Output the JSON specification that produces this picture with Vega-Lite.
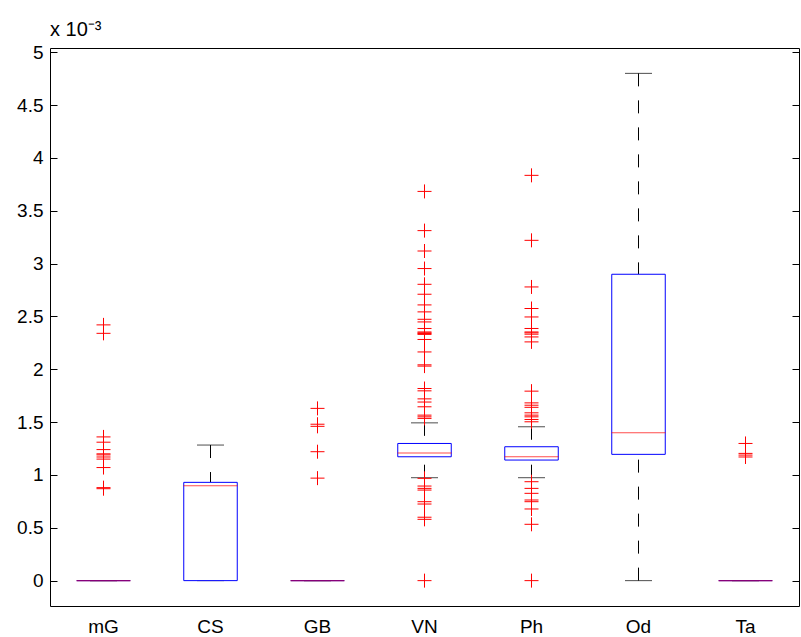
{
  "$schema": "https://vega.github.io/schema/vega-lite/v6.json",
  "autosize": {"type": "none"},
  "padding": {"left": 50, "top": 48, "right": 2, "bottom": 31},
  "width": 749,
  "height": 558,
  "background": "white",
  "title": {"text": "x 10⁻³", "anchor": "start", "frame": "group", "fontSize": 20, "fontWeight": "normal", "baseline": "alphabetic", "offset": 13, "dy": 26, "color": "black"},
  "config": {
    "font": "Liberation Sans",
    "title": {"fontSize": 20, "fontWeight": "normal", "font": "Liberation Sans"},
    "view": {"stroke": "black", "strokeWidth": 1},
    "axis": {"labelColor": "black", "labelFontSize": 19, "tickColor": "black", "domain": false, "grid": false, "title": null}
  },
  "datasets": {
    "boxes": [
      {"cat": "mG", "q1": 0, "q3": 0, "median": 0, "lo": 0, "hi": 0},
      {"cat": "CS", "q1": 0, "q3": 0.93, "median": 0.898, "lo": 0, "hi": 1.283},
      {"cat": "GB", "q1": 0, "q3": 0, "median": 0, "lo": 0, "hi": 0},
      {"cat": "VN", "q1": 1.172, "q3": 1.298, "median": 1.207, "lo": 0.974, "hi": 1.493},
      {"cat": "Ph", "q1": 1.141, "q3": 1.267, "median": 1.172, "lo": 0.974, "hi": 1.456},
      {"cat": "Od", "q1": 1.195, "q3": 2.899, "median": 1.399, "lo": 0, "hi": 4.8},
      {"cat": "Ta", "q1": 0, "q3": 0, "median": 0, "lo": 0, "hi": 0}
    ],
    "outliers": [
      {"cat": "mG", "v": 2.42}, {"cat": "mG", "v": 2.34}, {"cat": "mG", "v": 1.36}, {"cat": "mG", "v": 1.31},
      {"cat": "mG", "v": 1.24}, {"cat": "mG", "v": 1.2}, {"cat": "mG", "v": 1.19}, {"cat": "mG", "v": 1.17},
      {"cat": "mG", "v": 1.15}, {"cat": "mG", "v": 1.07}, {"cat": "mG", "v": 0.88}, {"cat": "mG", "v": 0.87},
      {"cat": "GB", "v": 1.63}, {"cat": "GB", "v": 1.48}, {"cat": "GB", "v": 1.46}, {"cat": "GB", "v": 1.22}, {"cat": "GB", "v": 0.97},
      {"cat": "VN", "v": 3.683}, {"cat": "VN", "v": 3.312}, {"cat": "VN", "v": 3.119}, {"cat": "VN", "v": 2.953},
      {"cat": "VN", "v": 2.804}, {"cat": "VN", "v": 2.71}, {"cat": "VN", "v": 2.609}, {"cat": "VN", "v": 2.543},
      {"cat": "VN", "v": 2.473}, {"cat": "VN", "v": 2.448}, {"cat": "VN", "v": 2.386}, {"cat": "VN", "v": 2.353},
      {"cat": "VN", "v": 2.345}, {"cat": "VN", "v": 2.338}, {"cat": "VN", "v": 2.33}, {"cat": "VN", "v": 2.282},
      {"cat": "VN", "v": 2.164}, {"cat": "VN", "v": 2.042}, {"cat": "VN", "v": 2.03}, {"cat": "VN", "v": 1.818},
      {"cat": "VN", "v": 1.796}, {"cat": "VN", "v": 1.72}, {"cat": "VN", "v": 1.69}, {"cat": "VN", "v": 1.645},
      {"cat": "VN", "v": 1.566}, {"cat": "VN", "v": 1.55}, {"cat": "VN", "v": 1.535},
      {"cat": "VN", "v": 0.968}, {"cat": "VN", "v": 0.895}, {"cat": "VN", "v": 0.873}, {"cat": "VN", "v": 0.857},
      {"cat": "VN", "v": 0.747}, {"cat": "VN", "v": 0.725}, {"cat": "VN", "v": 0.6}, {"cat": "VN", "v": 0.58}, {"cat": "VN", "v": 0},
      {"cat": "Ph", "v": 3.835}, {"cat": "Ph", "v": 3.22}, {"cat": "Ph", "v": 2.779}, {"cat": "Ph", "v": 2.575},
      {"cat": "Ph", "v": 2.495}, {"cat": "Ph", "v": 2.386}, {"cat": "Ph", "v": 2.353}, {"cat": "Ph", "v": 2.345},
      {"cat": "Ph", "v": 2.332}, {"cat": "Ph", "v": 2.306}, {"cat": "Ph", "v": 2.259}, {"cat": "Ph", "v": 1.793},
      {"cat": "Ph", "v": 1.682}, {"cat": "Ph", "v": 1.66}, {"cat": "Ph", "v": 1.64}, {"cat": "Ph", "v": 1.588},
      {"cat": "Ph", "v": 1.566}, {"cat": "Ph", "v": 1.55}, {"cat": "Ph", "v": 1.525}, {"cat": "Ph", "v": 1.503},
      {"cat": "Ph", "v": 0.936}, {"cat": "Ph", "v": 0.873}, {"cat": "Ph", "v": 0.826}, {"cat": "Ph", "v": 0.763},
      {"cat": "Ph", "v": 0.747}, {"cat": "Ph", "v": 0.678}, {"cat": "Ph", "v": 0.533}, {"cat": "Ph", "v": 0},
      {"cat": "Ta", "v": 1.298}, {"cat": "Ta", "v": 1.204}, {"cat": "Ta", "v": 1.188}, {"cat": "Ta", "v": 1.17}
    ]
  },
  "encoding": {
    "x": {
      "field": "cat", "type": "nominal",
      "scale": {"domain": ["mG", "CS", "GB", "VN", "Ph", "Od", "Ta"], "paddingInner": 0, "paddingOuter": 0},
      "axis": {"orient": "bottom", "ticks": false, "labelAngle": 0, "labelPadding": 11}
    }
  },
  "layer": [
    {
      "data": {"name": "boxes"},
      "mark": {"type": "rule", "color": "black", "strokeWidth": 1, "strokeDash": [13, 14]},
      "encoding": {
        "y": {"field": "hi", "type": "quantitative",
          "scale": {"domain": [-0.24, 5.04], "nice": false, "zero": false},
          "axis": {"orient": "left", "values": [0, 0.5, 1, 1.5, 2, 2.5, 3, 3.5, 4, 4.5, 5], "format": "~g", "tickSize": -7, "labelPadding": 14}},
        "y2": {"field": "q3"}
      }
    },
    {
      "data": {"name": "boxes"},
      "mark": {"type": "rule", "color": "black", "strokeWidth": 1, "strokeDash": [13, 14]},
      "encoding": {
        "y": {"field": "lo", "type": "quantitative", "axis": {"orient": "right", "values": [0, 0.5, 1, 1.5, 2, 2.5, 3, 3.5, 4, 4.5, 5], "labels": false, "tickSize": -7}},
        "y2": {"field": "q1"}
      }
    },
    {
      "data": {"name": "boxes"},
      "mark": {"type": "tick", "color": "black", "size": 27, "thickness": 1},
      "encoding": {"y": {"field": "hi", "type": "quantitative", "axis": null}}
    },
    {
      "data": {"name": "boxes"},
      "mark": {"type": "tick", "color": "black", "size": 27, "thickness": 1},
      "encoding": {"y": {"field": "lo", "type": "quantitative", "axis": null}}
    },
    {
      "data": {"name": "boxes"},
      "mark": {"type": "bar", "width": {"band": 0.5}, "fill": "white", "stroke": "#0000ff", "strokeWidth": 1},
      "encoding": {
        "y": {"field": "q1", "type": "quantitative", "axis": null},
        "y2": {"field": "q3"}
      }
    },
    {
      "data": {"name": "boxes"},
      "mark": {"type": "tick", "color": "#ff0000", "size": 54, "thickness": 1},
      "encoding": {"y": {"field": "median", "type": "quantitative", "axis": null}}
    },
    {
      "data": {"name": "outliers"},
      "mark": {"type": "point", "shape": "M-1,0H1M0,-1V1", "size": 196, "filled": false, "stroke": "#ff0000", "strokeWidth": 1, "opacity": 1},
      "encoding": {"y": {"field": "v", "type": "quantitative", "axis": null}}
    }
  ],
  "resolve": {"axis": {"y": "independent"}}
}
